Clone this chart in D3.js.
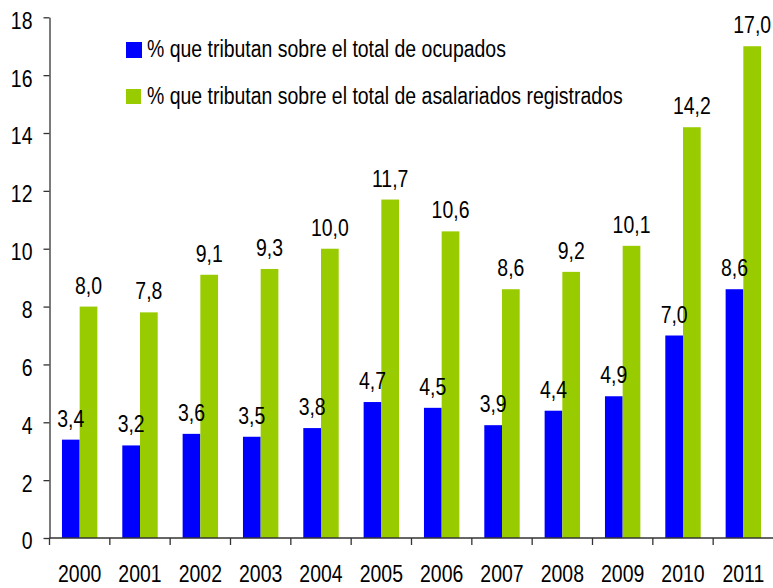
<!DOCTYPE html>
<html>
<head>
<meta charset="utf-8">
<script src="https://cdn.jsdelivr.net/npm/d3@7"></script>
<style>
  body { margin: 0; background: #fff; }
  svg text { font-family: "Liberation Sans", Arial, sans-serif; fill: #000; }
  .axis path, .axis line { stroke: #333; stroke-width: 1.3; }
</style>
</head>
<body>
<svg id="chart" width="773" height="588"></svg>
<script>
const years = ['2000', '2001', '2002', '2003', '2004', '2005', '2006', '2007', '2008', '2009', '2010', '2011']
const ocupados = [3.4, 3.2, 3.6, 3.5, 3.8, 4.7, 4.5, 3.9, 4.4, 4.9, 7.0, 8.6]
const asalariados = [8.0, 7.8, 9.1, 9.3, 10.0, 11.7, 10.6, 8.6, 9.2, 10.1, 14.2, 17.0]
const seriesNames = [
  '% que tributan sobre el total de ocupados',
  '% que tributan sobre el total de asalariados registrados'
]
const colors = ['#0000ff', '#99cc00']
const yTicks = [0, 2, 4, 6, 8, 10, 12, 14, 16, 18]

const svg = d3.select('#chart')
const fontSize = 23.3
const squeeze = 'scale(0.835,1)'  // the original font is a bit narrow
const fmt = (v) => d3.format('.1f')(v).replace('.', ',')

const x = d3.scaleBand().domain(years).range([49.5, 773.5])
const y = d3.scaleLinear().domain([0, 18]).range([538, 17.3])
const sub = d3.scaleBand().domain([0, 1]).range([0, 35.4])
const pad = (x.bandwidth() - 35.4) / 2

const data = years.map((yr, i) => ({year: yr, values: [ocupados[i], asalariados[i]]}))

// bars
const groups = svg.append('g')
  .selectAll('g')
  .data(data)
  .enter()
  .append('g')
  .attr('transform', (d) => `translate(${x(d.year) + pad}, 0)`)

groups.selectAll('rect')
  .data((d) => d.values.map((v, k) => ({v, k})))
  .enter()
  .append('rect')
  .attr('x', (d) => sub(d.k))
  .attr('y', (d) => y(d.v))
  .attr('width', sub.bandwidth())
  .attr('height', (d) => y(0) - y(d.v))
  .attr('fill', (d) => colors[d.k])

groups.selectAll('text')
  .data((d) => d.values.map((v, k) => ({v, k})))
  .enter()
  .append('text')
  .attr('transform', (d) => `translate(${sub(d.k) + sub.bandwidth() / 2}, ${y(d.v) - 13}) ${squeeze}`)
  .attr('text-anchor', 'middle')
  .attr('font-size', fontSize)
  .text((d) => fmt(d.v))

// y axis
const yAxis = svg.append('g')
  .attr('class', 'axis')
  .attr('transform', 'translate(49.5, 0)')
  .call(d3.axisLeft(y).tickValues(yTicks).tickSize(6).tickSizeOuter(0))
yAxis.selectAll('text')
  .attr('font-size', fontSize)
  .attr('x', 0)
  .attr('dy', '0.38em')
  .attr('transform', 'translate(-17, 2) ' + squeeze)

// x axis, ticks sit between the categories
const xAxis = svg.append('g')
  .attr('class', 'axis')
  .attr('transform', `translate(0, ${y(0)})`)
xAxis.append('line')
  .attr('x1', 49.5).attr('x2', 773)
xAxis.selectAll('.tick')
  .data(years)
  .enter()
  .append('line')
  .attr('class', 'tick')
  .attr('x1', (d) => x(d)).attr('x2', (d) => x(d))
  .attr('y1', 0).attr('y2', 7)
xAxis.selectAll('text')
  .data(years)
  .enter()
  .append('text')
  .attr('transform', (d) => `translate(${x(d) + x.bandwidth() / 2}, 44) ${squeeze}`)
  .attr('text-anchor', 'middle')
  .attr('font-size', fontSize)
  .text((d) => d)

// legend
const legend = svg.append('g')
  .selectAll('g')
  .data(seriesNames)
  .enter()
  .append('g')
  .attr('transform', (d, i) => `translate(126, ${42 + i * 47})`)
legend.append('rect')
  .attr('width', (d, i) => i === 0 ? 16 : 15)
  .attr('height', (d, i) => i === 0 ? 16 : 15)
  .attr('fill', (d, i) => colors[i])
legend.append('text')
  .attr('transform', `translate(21, 15) ${squeeze}`)
  .attr('font-size', fontSize)
  .text((d) => d)
</script>
</body>
</html>
